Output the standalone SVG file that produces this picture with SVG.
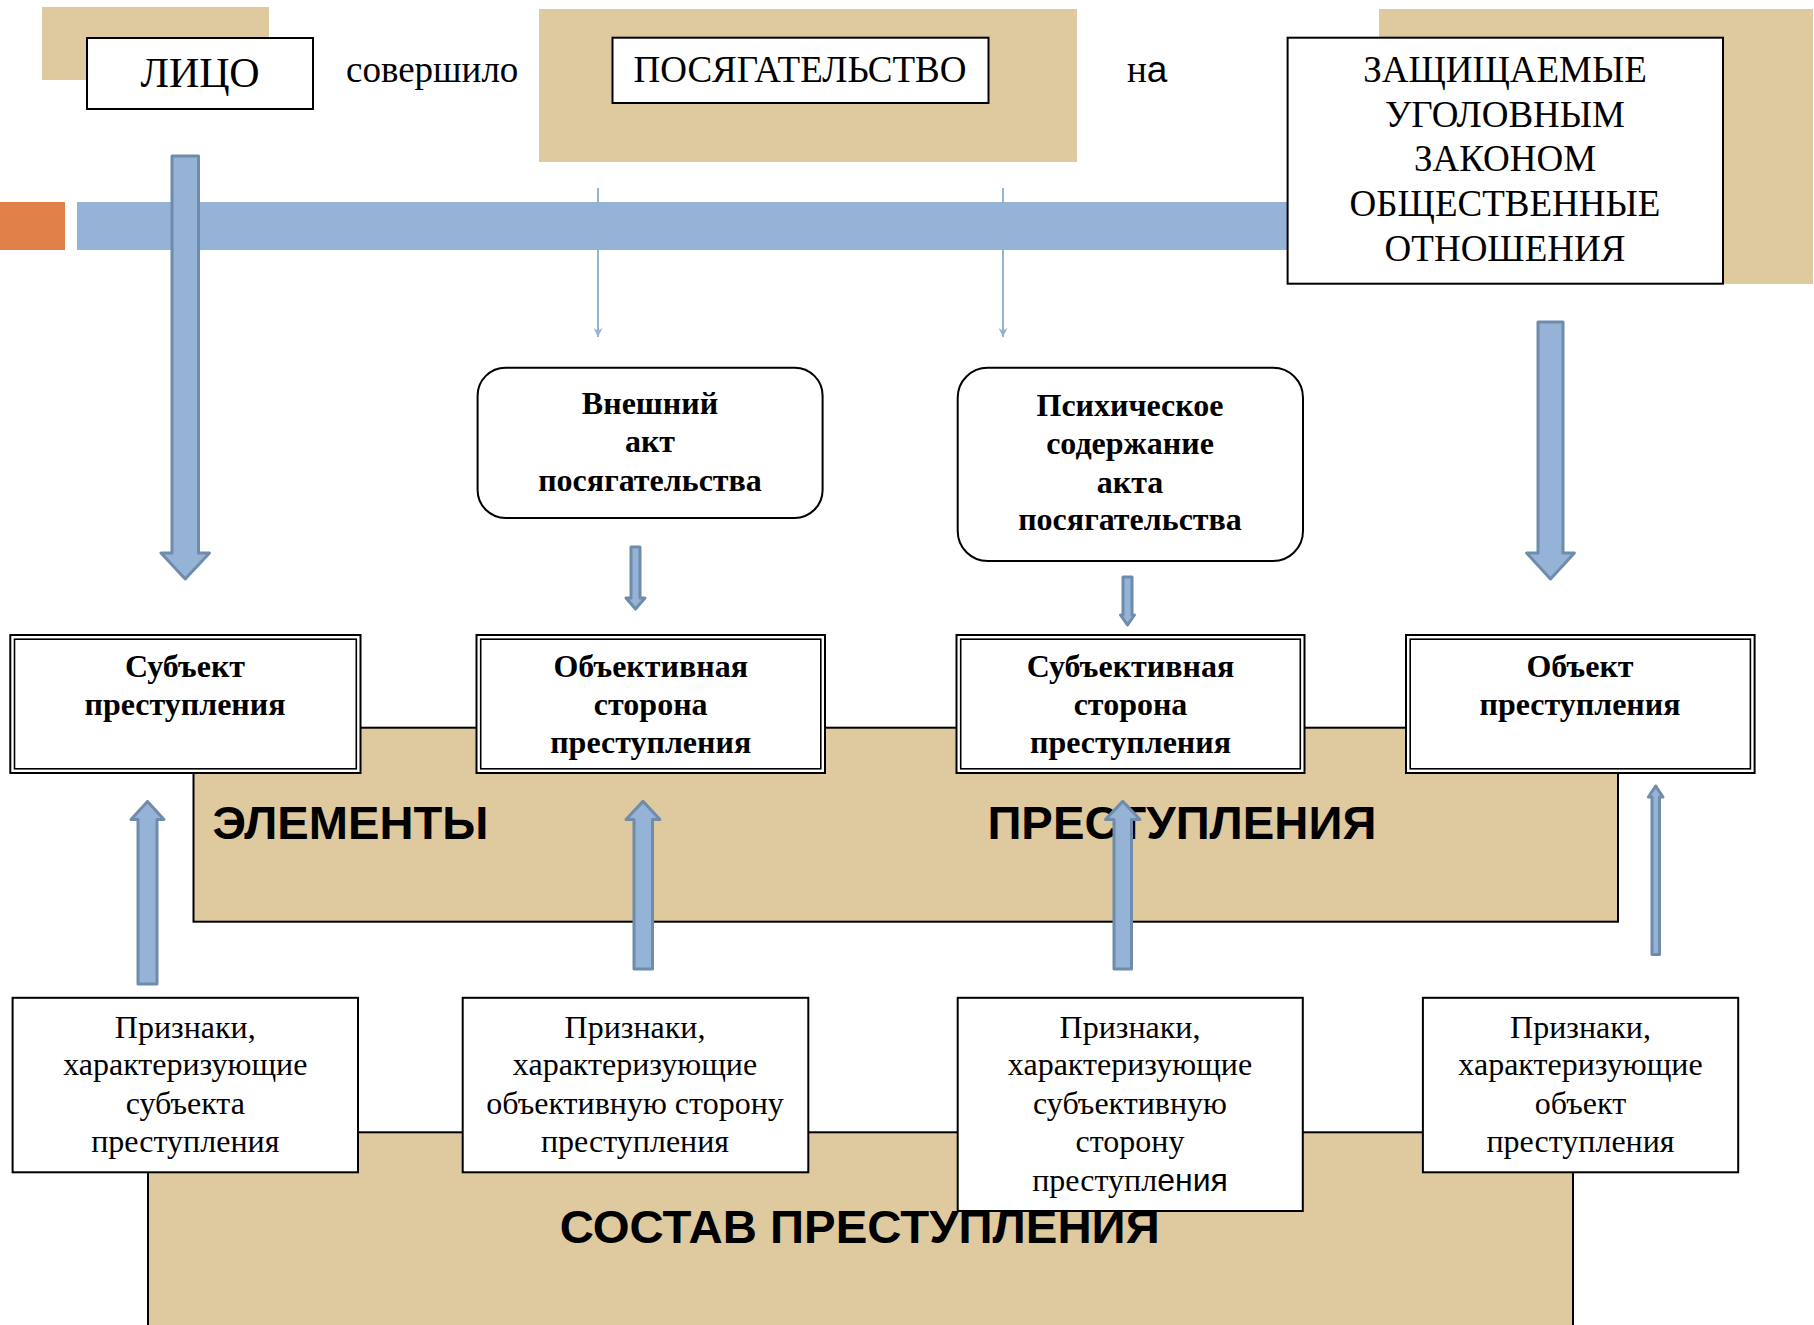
<svg xmlns="http://www.w3.org/2000/svg" width="1814" height="1325" viewBox="0 0 1814 1325">
<defs>
<style>
.tan{fill:#dfcaa0}
.tanb{fill:#dfcaa0;stroke:#000;stroke-width:2}
.box{fill:#fff;stroke:#000;stroke-width:2}
.dbl{fill:none;stroke:#000;stroke-width:1.6}
.arr{fill:#95b3d7;stroke:#6f8cab;stroke-width:3;stroke-linejoin:round}
.thin{stroke:#95b3d7;stroke-width:2;fill:none}
.s{font-family:"Liberation Serif","Times New Roman",serif;fill:#000}
.b{font-family:"Liberation Serif","Times New Roman",serif;font-weight:bold;fill:#000;font-size:32px;text-anchor:middle}
.r{font-family:"Liberation Serif","Times New Roman",serif;fill:#000;font-size:32px;text-anchor:middle}
.big{font-family:"Liberation Sans",Arial,sans-serif;font-weight:bold;fill:#000;font-size:46px}
.sans{font-family:"Liberation Sans",Arial,sans-serif}
</style>
<marker id="ah" viewBox="0 0 10 10" refX="10" refY="5" markerWidth="12" markerHeight="9" markerUnits="userSpaceOnUse" orient="auto">
<path d="M0,0 L10,5 L0,10 L3,5 z" fill="#95b3d7"/>
</marker>
</defs>

<!-- background decorations -->
<rect class="tan" x="42" y="7" width="227" height="73"/>
<rect class="tan" x="539" y="9" width="538" height="153"/>
<rect class="tan" x="1379" y="9" width="434" height="275"/>
<rect x="0" y="202" width="65" height="48" fill="#df8048"/>
<rect x="77" y="202" width="1215" height="48" fill="#95b3d7"/>

<g id="band-elements">
<rect class="tanb" x="193.5" y="727.7" width="1424.5" height="194"/>
<text class="big" x="212.4" y="839.3" textLength="276" lengthAdjust="spacingAndGlyphs">ЭЛЕМЕНТЫ</text>
<text class="big" x="987.4" y="839.3" textLength="389" lengthAdjust="spacingAndGlyphs">ПРЕСТУПЛЕНИЯ</text>
</g>
<g id="band-sostav">
<rect class="tanb" x="148" y="1132.3" width="1425" height="220"/>
<text class="big" x="559.7" y="1243" textLength="600" lengthAdjust="spacingAndGlyphs">СОСТАВ ПРЕСТУПЛЕНИЯ</text>
</g>

<!-- top row -->
<g id="node-lico">
<rect class="box" x="87" y="38" width="226" height="71"/>
<text class="s" x="200" y="87" font-size="42" text-anchor="middle">ЛИЦО</text>
</g>
<text class="s" x="346" y="82" font-size="37">совершило</text>
<g id="node-posyag">
<rect class="box" x="612.5" y="37.7" width="376" height="65.3"/>
<text class="s" x="800" y="81.7" font-size="37" text-anchor="middle" textLength="333" lengthAdjust="spacingAndGlyphs">ПОСЯГАТЕЛЬСТВО</text>
</g>
<text class="s" x="1127" y="82" font-size="37">н<tspan class="sans">а</tspan></text>
<g id="node-object-rel">
<rect class="box" x="1287.6" y="37.7" width="435.4" height="246"/>
<g class="s" font-size="37" text-anchor="middle">
<text x="1505" y="82">ЗАЩИЩАЕМЫЕ</text>
<text x="1505" y="127">УГОЛОВНЫМ</text>
<text x="1505" y="171">ЗАКОНОМ</text>
<text x="1505" y="216">ОБЩЕСТВЕННЫЕ</text>
<text x="1505" y="261">ОТНОШЕНИЯ</text>
</g>
</g>

<!-- rounded nodes -->
<g id="node-vneshniy">
<rect class="box" x="477.6" y="367.7" width="345" height="150.3" rx="28"/>
<text class="b" x="650" y="414">Внешний</text>
<text class="b" x="650" y="452">акт</text>
<text class="b" x="650" y="491">посягательства</text>
</g>
<g id="node-psych">
<rect class="box" x="957.7" y="367.7" width="345.3" height="193.3" rx="30"/>
<text class="b" x="1130" y="416">Психическое</text>
<text class="b" x="1130" y="454">содержание</text>
<text class="b" x="1130" y="493">акта</text>
<text class="b" x="1130" y="530">посягательства</text>
</g>

<!-- element boxes -->
<g id="node-subject">
<rect class="box" x="10.3" y="635" width="350.2" height="138" stroke-width="1.6"/>
<rect class="dbl" x="14.5" y="639.2" width="341.8" height="129.6"/>
<text class="b" x="185" y="676.7">Субъект</text>
<text class="b" x="185" y="715">преступления</text>
</g>
<g id="node-objective">
<rect class="box" x="476.5" y="635" width="348.5" height="138" stroke-width="1.6"/>
<rect class="dbl" x="480.7" y="639.2" width="340.1" height="129.6"/>
<text class="b" x="650.7" y="676.7">Объективная</text>
<text class="b" x="650.7" y="715">сторона</text>
<text class="b" x="650.7" y="753">преступления</text>
</g>
<g id="node-subjective">
<rect class="box" x="956.5" y="635" width="348" height="138" stroke-width="1.6"/>
<rect class="dbl" x="960.7" y="639.2" width="339.6" height="129.6"/>
<text class="b" x="1130.5" y="676.7">Субъективная</text>
<text class="b" x="1130.5" y="715">сторона</text>
<text class="b" x="1130.5" y="753">преступления</text>
</g>
<g id="node-object">
<rect class="box" x="1406" y="635" width="348.6" height="138" stroke-width="1.6"/>
<rect class="dbl" x="1410.2" y="639.2" width="340.2" height="129.6"/>
<text class="b" x="1580" y="676.7">Объект</text>
<text class="b" x="1580" y="715">преступления</text>
</g>

<!-- feature boxes -->
<g id="node-f1">
<rect class="box" x="12.6" y="997.8" width="345.4" height="174.5"/>
<text class="r" x="185.3" y="1037.5">Признаки,</text>
<text class="r" x="185.3" y="1075.3">характеризующие</text>
<text class="r" x="185.3" y="1113.9">субъекта</text>
<text class="r" x="185.3" y="1152">преступления</text>
</g>
<g id="node-f2">
<rect class="box" x="462.7" y="997.8" width="345.6" height="174.5"/>
<text class="r" x="635" y="1037.5">Признаки,</text>
<text class="r" x="635" y="1075.3">характеризующие</text>
<text class="r" x="635" y="1113.9">объективную сторону</text>
<text class="r" x="635" y="1152">преступления</text>
</g>
<g id="node-f3">
<rect class="box" x="957.7" y="997.8" width="345.1" height="213.2"/>
<text class="r" x="1130" y="1037.5">Признаки,</text>
<text class="r" x="1130" y="1075.3">характеризующие</text>
<text class="r" x="1130" y="1113.9">субъективную</text>
<text class="r" x="1130" y="1152">сторону</text>
<text class="r" x="1130" y="1190.6">преступл<tspan class="sans">ения</tspan></text>
</g>
<g id="node-f4">
<rect class="box" x="1422.9" y="997.8" width="315.3" height="174.5"/>
<text class="r" x="1580.5" y="1037.5">Признаки,</text>
<text class="r" x="1580.5" y="1075.3">характеризующие</text>
<text class="r" x="1580.5" y="1113.9">объект</text>
<text class="r" x="1580.5" y="1152">преступления</text>
</g>

<!-- connectors -->
<g id="connectors">
<line class="thin" x1="598" y1="188" x2="598" y2="337" marker-end="url(#ah)"/>
<line class="thin" x1="1003" y1="188" x2="1003" y2="337" marker-end="url(#ah)"/>
<polygon class="arr" points="172,156 198.5,156 198.5,553 209.5,553 185.2,579 161,553 172,553"/>
<polygon class="arr" points="1538,322 1563,322 1563,553 1574.4,553 1550.5,579 1526.6,553 1538,553"/>
<polygon class="arr" points="631,547 640,547 640,598 645,598 635.5,609 626,598 631,598"/>
<polygon class="arr" points="1123,577 1132,577 1132,615 1134.5,615 1127.5,625 1120.5,615 1123,615"/>
<polygon class="arr" points="147.5,801.4 164,819.5 157,819.5 157,984 138,984 138,819.5 131,819.5"/>
<polygon class="arr" points="643,801.4 660,819.5 652.5,819.5 652.5,969 634,969 634,819.5 626,819.5"/>
<polygon class="arr" points="1122.7,801.4 1140,819.5 1131.5,819.5 1131.5,969 1114,969 1114,819.5 1105.5,819.5"/>
<polygon class="arr" points="1655.7,786 1663,797 1659.5,797 1659.5,954.6 1652,954.6 1652,797 1648.4,797"/>
</g>
</svg>
